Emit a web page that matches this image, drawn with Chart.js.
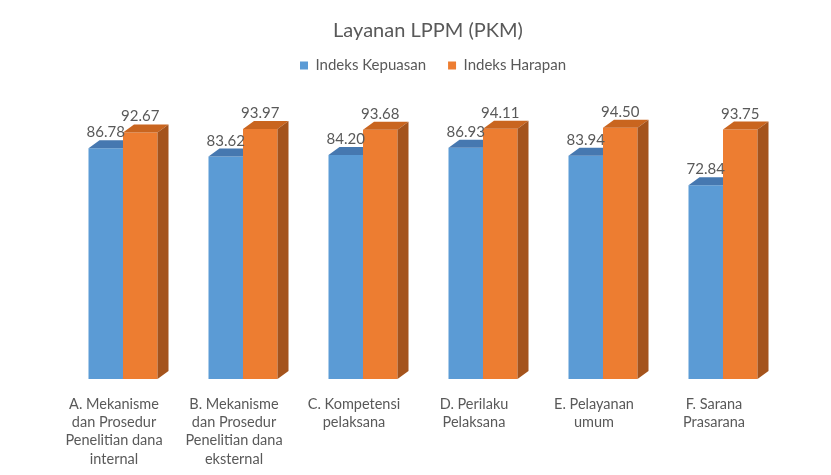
<!DOCTYPE html>
<html>
<head>
<meta charset="utf-8">
<script src="https://cdn.jsdelivr.net/npm/chart.js@4/dist/chart.umd.min.js"></script>
<style>
  html, body { margin: 0; padding: 0; background: #ffffff; }
  #wrap { width: 831px; height: 475px; }
</style>
</head>
<body>
<div id="wrap"><canvas id="c" width="831" height="475"></canvas></div>
<script>
const categories = [
  ["A. Mekanisme", "dan Prosedur", "Penelitian dana", "internal"],
  ["B. Mekanisme", "dan Prosedur", "Penelitian dana", "eksternal"],
  ["C. Kompetensi", "pelaksana"],
  ["D. Perilaku", "Pelaksana"],
  ["E. Pelayanan", "umum"],
  ["F. Sarana", "Prasarana"]
];
const seriesNames = ["Indeks Kepuasan", "Indeks Harapan"];
const indeksKepuasan = [86.78, 83.62, 84.20, 86.93, 83.94, 72.84];
const indeksHarapan = [92.67, 93.97, 93.68, 94.11, 94.50, 93.75];

const FONT = "Lato, 'Open Sans', sans-serif";
const TEXT = "#595959";
const DX = 11, DY = 8;

const threeD = {
  id: 'threeD',
  afterDatasetsDraw(chart) {
    const ctx = chart.ctx;
    const faces = [
      { top: '#4678B0', side: '#3A6796' },
      { top: '#C9651F', side: '#A4531C' }
    ];
    ctx.save();
    chart.data.datasets.forEach((ds, di) => {
      const meta = chart.getDatasetMeta(di);
      meta.data.forEach((bar) => {
        const p = bar.getProps(['x', 'y', 'base', 'width'], true);
        const l = p.x - p.width / 2, r = p.x + p.width / 2, t = p.y, b = p.base;
        ctx.fillStyle = faces[di].top;
        ctx.beginPath();
        if (di === 0) {
          ctx.moveTo(l, t); ctx.lineTo(r, t); ctx.lineTo(r, t - DY); ctx.lineTo(l + DX, t - DY);
        } else {
          ctx.moveTo(l, t); ctx.lineTo(r, t); ctx.lineTo(r + DX, t - DY); ctx.lineTo(l + DX, t - DY);
        }
        ctx.closePath(); ctx.fill();
        if (di === 1) {
          ctx.fillStyle = faces[di].side;
          ctx.beginPath();
          ctx.moveTo(r, t); ctx.lineTo(r + DX, t - DY); ctx.lineTo(r + DX, b - DY); ctx.lineTo(r, b);
          ctx.closePath(); ctx.fill();
        }
      });
    });
    // value labels
    ctx.fillStyle = TEXT;
    ctx.font = "15px " + FONT;
    ctx.textAlign = 'center';
    ctx.textBaseline = 'alphabetic';
    chart.data.datasets.forEach((ds, di) => {
      const meta = chart.getDatasetMeta(di);
      meta.data.forEach((bar, i) => {
        const p = bar.getProps(['x', 'y'], true);
        ctx.fillText(ds.data[i].toFixed(2), p.x, p.y - DY - 3);
      });
    });
    ctx.restore();
  }
};

const legendSpace = {
  id: 'legendSpace',
  beforeInit(chart) {
    const origFit = chart.legend.fit;
    chart.legend.fit = function () {
      origFit.bind(chart.legend)();
      this.height += 30;
    };
  },
  afterLayout(chart) {
    chart.legend.left += 10; chart.legend.right += 10;
    if (chart.titleBlock) { chart.titleBlock.left += 5; chart.titleBlock.right += 5; }
  }
};

new Chart(document.getElementById('c'), {
  type: 'bar',
  data: {
    labels: categories,
    datasets: [
      { label: seriesNames[0], data: indeksKepuasan, backgroundColor: '#5B9BD5', borderWidth: 0,
        categoryPercentage: 0.575, barPercentage: 1.0 },
      { label: seriesNames[1], data: indeksHarapan, backgroundColor: '#ED7D31', borderWidth: 0,
        categoryPercentage: 0.575, barPercentage: 1.0 }
    ]
  },
  options: {
    responsive: false,
    animation: false,
    layout: { padding: { left: 63, right: 48, top: 0, bottom: -9 } },
    plugins: {
      title: {
        display: true,
        text: 'Layanan LPPM (PKM)',
        color: TEXT,
        font: { family: FONT, size: 20, weight: 'normal' },
        padding: { top: 19, bottom: -7 }
      },
      legend: {
        display: true,
        position: 'top',
        labels: {
          color: TEXT,
          font: { family: FONT, size: 15 },
          boxWidth: 8, boxHeight: 8,
          padding: 22
        }
      },
      tooltip: { enabled: false }
    },
    scales: {
      x: {
        grid: { display: false, drawTicks: false },
        border: { display: false },
        ticks: {
          color: TEXT,
          font: { family: FONT, size: 14.5, lineHeight: 1.26 },
          padding: 16,
          maxRotation: 0,
          autoSkip: false,
          labelOffset: -9
        }
      },
      y: {
        display: false,
        min: 0,
        max: 100
      }
    }
  },
  plugins: [threeD, legendSpace]
});
</script>
</body>
</html>
